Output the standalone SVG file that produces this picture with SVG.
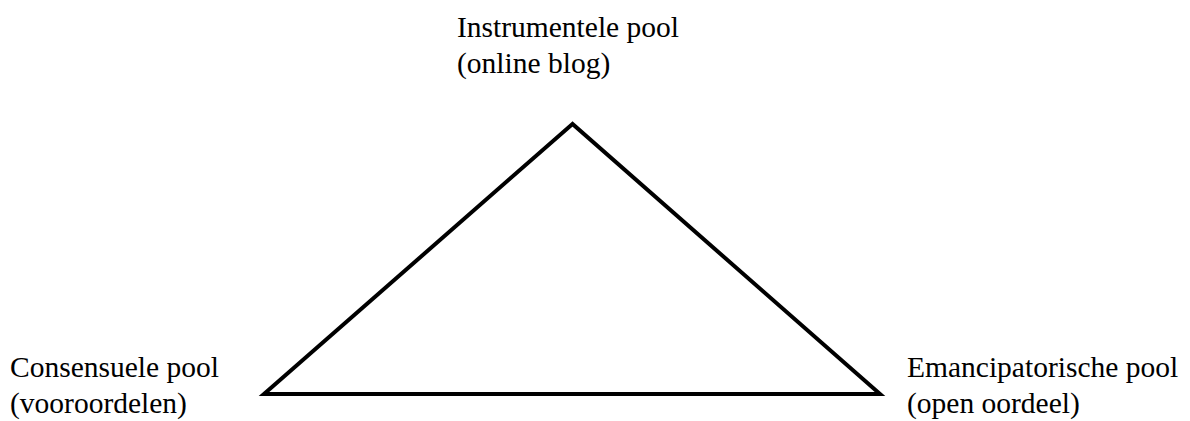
<svg xmlns="http://www.w3.org/2000/svg" width="1190" height="421" viewBox="0 0 1190 421">
<style>
.lbl{font-family:"Liberation Serif","Times New Roman",serif;font-size:29.5px;fill:#000}
.edge{fill:none;stroke:#000;stroke-width:4;stroke-linejoin:miter}
</style>
<rect width="1190" height="421" fill="#fff"/>
<g id="connectors">
<polygon class="edge" points="572.5,124 264,394 880,394"/>
</g>
<g id="node-instrumentele">
<text class="lbl" x="457" y="36.5">Instrumentele pool</text>
<text class="lbl" x="457" y="73">(online blog)</text>
</g>
<g id="node-consensuele">
<text class="lbl" x="10" y="377">Consensuele pool</text>
<text class="lbl" x="10" y="413">(vooroordelen)</text>
</g>
<g id="node-emancipatorische">
<text class="lbl" x="907" y="377">Emancipatorische pool</text>
<text class="lbl" x="907" y="413">(open oordeel)</text>
</g>
</svg>
